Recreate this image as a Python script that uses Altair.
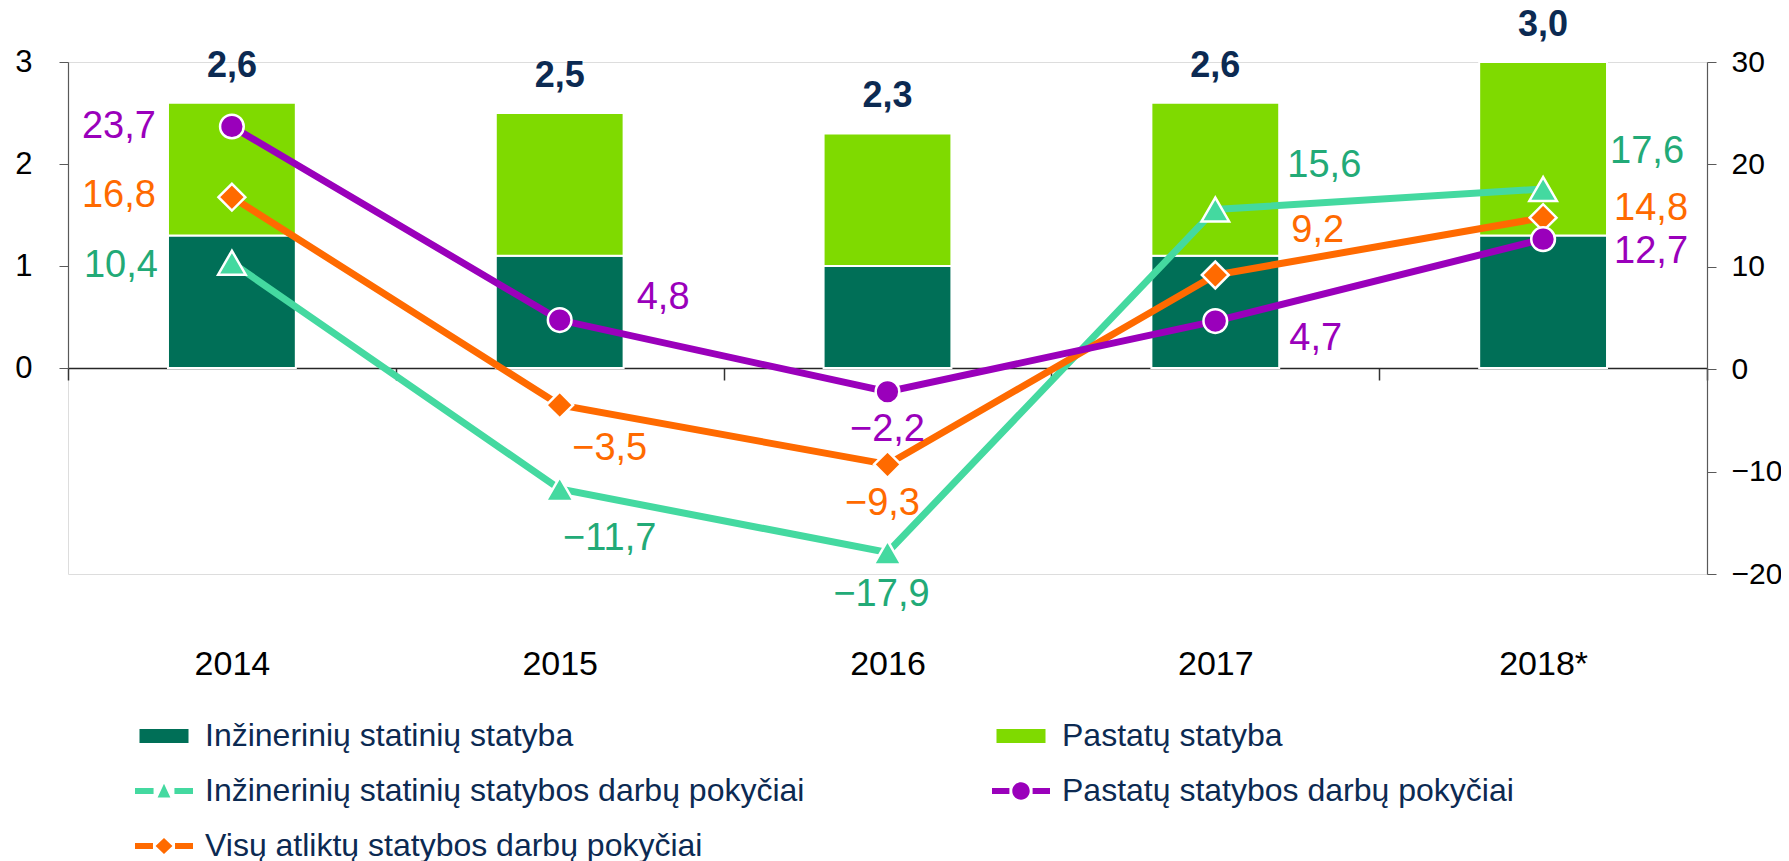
import altair as alt
import pandas as pd

# ---------------- data ----------------
years = ["2014", "2015", "2016", "2017", "2018*"]
inz_statyba = [1.3, 1.1, 1.0, 1.1, 1.3]          # dark green bars (mlrd. EUR)
pastatu_statyba = [1.3, 1.4, 1.3, 1.5, 1.7]      # light green bars (mlrd. EUR)
totals = [2.6, 2.5, 2.3, 2.6, 3.0]               # bold labels above bars
inz_pokyciai = [10.4, -11.7, -17.9, 15.6, 17.6]  # teal line, %
pastatu_pokyciai = [23.7, 4.8, -2.2, 4.7, 12.7]  # purple line, %
visu_pokyciai = [16.8, -3.5, -9.3, 9.2, 14.8]    # orange line, %

series_names = [
    "Inžinerinių statinių statyba",
    "Pastatų statyba",
    "Inžinerinių statinių statybos darbų pokyčiai",
    "Pastatų statybos darbų pokyčiai",
    "Visų atliktų statybos darbų pokyčiai",
]

# ---------------- styles ----------------
FONT = "Liberation Sans"
DARK = "#006F57"
LIGHT = "#7FDA00"
TEAL = "#44D9A0"
TEAL_TXT = "#22AA77"
PURPLE = "#9A00BB"
ORANGE = "#FF6A00"
NAVY = "#0C2A52"
W, H = 1639, 512


def lt(v):
    s = f"{abs(v):.1f}".replace(".", ",")
    return ("\u2212" + s) if v < 0 else s


bars = pd.DataFrame({
    "year": years,
    "inz": inz_statyba,
    "past": pastatu_statyba,
    "label": [lt(t) for t in totals],
})
bars["top"] = bars["inz"] + bars["past"]

x_enc = alt.X(
    "year:N",
    sort=years,
    scale=alt.Scale(domain=years, paddingInner=0, paddingOuter=0),
    axis=alt.Axis(
        title=None, labelAngle=0, labelFont=FONT, labelFontSize=34, labelColor="black",
        labelPadding=267, tickSize=12, tickBand="extent", tickColor="#333333", tickWidth=1.5,
        domainColor="#262626", domainWidth=1.5, offset=-206, grid=False,
    ),
)

left_scale = alt.Scale(domain=[0, 3], range=[306, 0], nice=False)
left_axis = alt.Axis(
    title=None, orient="left", values=[0, 1, 2, 3], grid=False, tickSize=9, labelPadding=27,
    labelFont=FONT, labelFontSize=31, labelColor="black", domainColor="#595959",
    tickColor="#595959", domainWidth=1.2,
)
right_scale = alt.Scale(domain=[-20, 30], nice=False)
right_axis = alt.Axis(
    title=None, orient="right", values=[-20, -10, 0, 10, 20, 30], grid=False, tickSize=9,
    labelPadding=15, labelFont=FONT, labelFontSize=30, labelColor="black",
    domainColor="#595959", tickColor="#595959", domainWidth=1.2,
)

dark = alt.Chart(bars).mark_bar(
    width=alt.RelativeBandSize(0.39), color=DARK, stroke="white", strokeWidth=2
).encode(x=x_enc, y=alt.Y("inz:Q", scale=left_scale, axis=left_axis))

light = alt.Chart(bars).mark_bar(
    width=alt.RelativeBandSize(0.39), color=LIGHT, stroke="white", strokeWidth=2
).encode(x=x_enc, y=alt.Y("inz:Q", scale=left_scale, axis=left_axis), y2="top:Q")

total_txt = alt.Chart(bars).mark_text(
    dy=-37, fontSize=36, fontWeight="bold", color=NAVY, font=FONT, baseline="middle"
).encode(x=x_enc, y=alt.Y("top:Q", scale=left_scale, axis=left_axis), text="label:N")

bar_group = alt.layer(dark, light, total_txt)

# label offsets (dx, dy, align) per year, per series
series_defs = [
    ("inz", inz_pokyciai, TEAL, TEAL_TXT, "triangle-up", 760,
     [(-74, 3, "right"), (50, 50, "center"), (-6, 43, "center"), (72, -43, "left"), (67, -37, "left")]),
    ("vis", visu_pokyciai, ORANGE, ORANGE, "diamond", 720,
     [(-76, -1, "right"), (50, 44, "center"), (-5, 40, "center"), (76, -44, "left"), (71, -9, "left")]),
    ("pas", pastatu_pokyciai, PURPLE, PURPLE, "circle", 560,
     [(-76, 0, "right"), (77, -22, "left"), (0, 38, "center"), (74, 18, "left"), (71, 13, "left")]),
]

y_right = alt.Y("value:Q", scale=right_scale, axis=right_axis)

line_layers, point_layers, text_layers = [], [], []
for key, vals, col, tcol, shape, size, offs in series_defs:
    df = pd.DataFrame({"year": years, "value": vals, "label": [lt(v) for v in vals]})
    line_layers.append(
        alt.Chart(df).mark_line(color=col, strokeWidth=7).encode(x=x_enc, y=y_right)
    )
    point_layers.append(
        alt.Chart(df).mark_point(
            shape=shape, size=size, filled=True, fill=col, stroke="white",
            strokeWidth=2.5, opacity=1
        ).encode(x=x_enc, y=y_right)
    )
    for yr, (dx, dy, al) in zip(years, offs):
        text_layers.append(
            alt.Chart(df).transform_filter(alt.datum.year == yr).mark_text(
                dx=dx, dy=dy, align=al, baseline="middle", fontSize=38, font=FONT, color=tcol
            ).encode(x=x_enc, y=y_right, text="label:N")
        )

# legend-only layer
legend_paths = [
    "M-0.845,-0.24H0.845V0.24H-0.845Z",
    "M-0.845,-0.24H0.845V0.24H-0.845Z",
    "M-1,-0.1H-0.36V0.1H-1Z M0.36,-0.1H1V0.1H0.36Z M0,-0.25L0.22,0.22H-0.22Z",
    "M-1,-0.1H-0.4V0.1H-1Z M0.4,-0.1H1V0.1H0.4Z M0.3,0A0.3,0.3 0 1,1 -0.3,0A0.3,0.3 0 1,1 0.3,0Z",
    "M-1,-0.1H-0.38V0.1H-1Z M0.38,-0.1H1V0.1H0.38Z M0,-0.28L0.29,0L0,0.28L-0.29,0Z",
]
legend_colors = [DARK, LIGHT, TEAL, PURPLE, ORANGE]
leg = alt.Legend(
    title=None, orient="none", direction="horizontal", legendX=67, legendY=645, columns=2,
    columnPadding=187, rowPadding=10, symbolSize=3364, symbolStrokeWidth=0, symbolOpacity=1,
    labelFont=FONT, labelFontSize=32, labelColor=NAVY, labelLimit=1200, labelOffset=12,
)
leg_df = pd.DataFrame({"series": series_names})
legend_layer = alt.Chart(leg_df).transform_filter("false").mark_point(filled=True).encode(
    color=alt.Color("series:N", scale=alt.Scale(domain=series_names, range=legend_colors), legend=leg),
    shape=alt.Shape("series:N", scale=alt.Scale(domain=series_names, range=legend_paths), legend=leg),
)

line_group = alt.layer(*line_layers, *point_layers, *text_layers, legend_layer)

chart = alt.layer(bar_group, line_group).resolve_scale(y="independent").properties(
    width=W, height=H,
    autosize=alt.AutoSizeParams(type="none"),
    padding={"left": 60, "top": 54, "right": 74, "bottom": 287},
).configure_view(stroke=None).configure(background="white")

chart.save("out.html", embed_options={"renderer": "svg", "actions": False})
